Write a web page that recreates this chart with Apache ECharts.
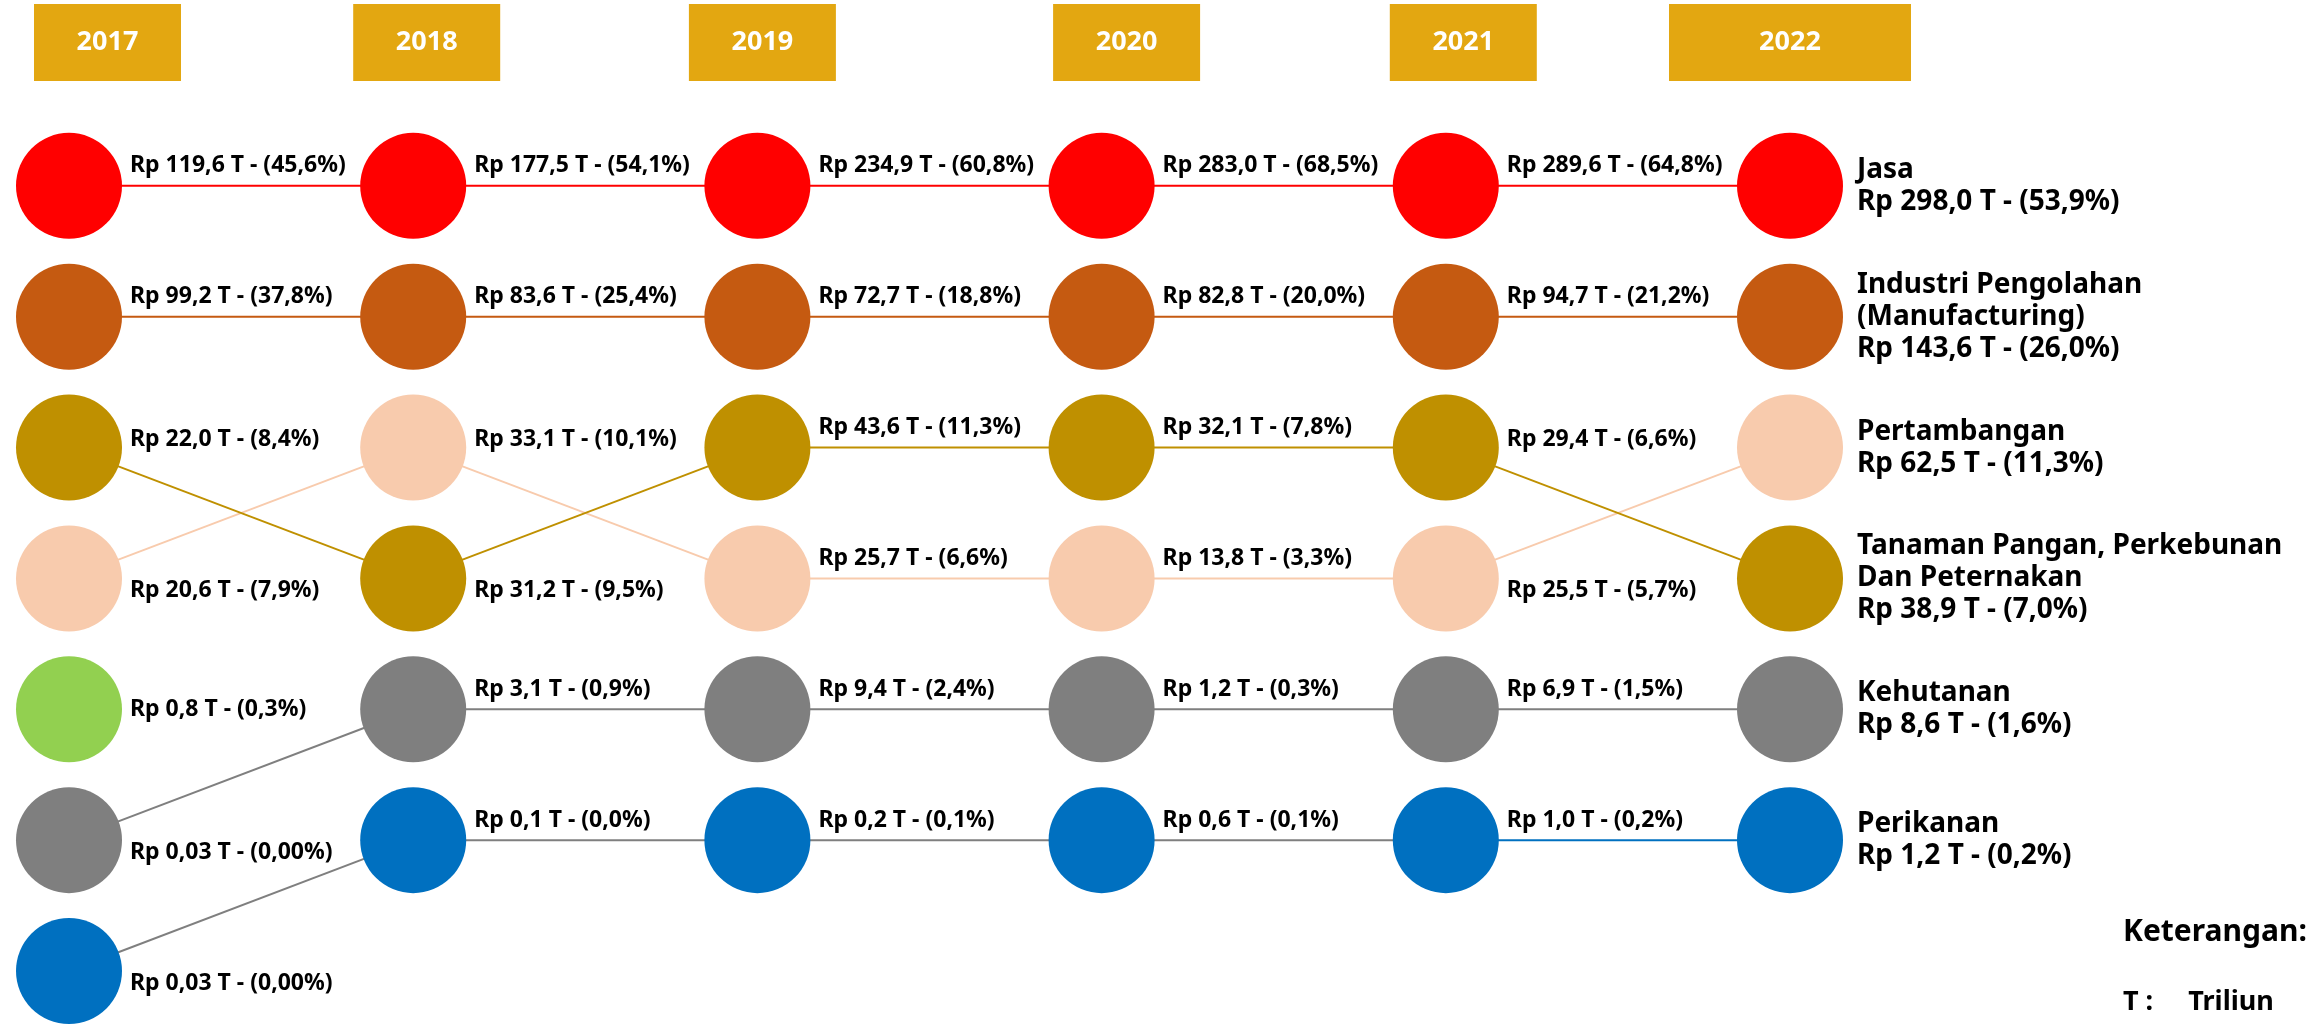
<!DOCTYPE html>
<html>
<head>
<meta charset="utf-8">
<script src="https://cdn.jsdelivr.net/npm/echarts@6/dist/echarts.min.js"></script>
<style>
html,body{margin:0;padding:0;background:#fff;}
#c{width:2307px;height:1028px;}
</style>
</head>
<body>
<div id="c"></div>
<script>
// ---------- DATA ----------
const years = ['2017', '2018', '2019', '2020', '2021', '2022'];

// Jasa
const jasaValue = [119.6, 177.5, 234.9, 283.0, 289.6, 298.0];
const jasaShare = [45.6, 54.1, 60.8, 68.5, 64.8, 53.9];
const jasaRank  = [1, 1, 1, 1, 1, 1];

// Industri Pengolahan (Manufacturing)
const industriValue = [99.2, 83.6, 72.7, 82.8, 94.7, 143.6];
const industriShare = [37.8, 25.4, 18.8, 20.0, 21.2, 26.0];
const industriRank  = [2, 2, 2, 2, 2, 2];

// Pertambangan
const tambangValue = [20.6, 33.1, 25.7, 13.8, 25.5, 62.5];
const tambangShare = [7.9, 10.1, 6.6, 3.3, 5.7, 11.3];
const tambangRank  = [4, 3, 4, 4, 4, 3];

// Tanaman Pangan, Perkebunan Dan Peternakan
const tanamanValue = [22.0, 31.2, 43.6, 32.1, 29.4, 38.9];
const tanamanShare = [8.4, 9.5, 11.3, 7.8, 6.6, 7.0];
const tanamanRank  = [3, 4, 3, 3, 3, 4];

// green category (only 2017, unnamed)
const hijauValue = [0.8, null, null, null, null, null];
const hijauShare = [0.3, null, null, null, null, null];
const hijauRank  = [5, null, null, null, null, null];

// Kehutanan
const hutanValue = [0.03, 3.1, 9.4, 1.2, 6.9, 8.6];
const hutanShare = [0.00, 0.9, 2.4, 0.3, 1.5, 1.6];
const hutanRank  = [6, 5, 5, 5, 5, 5];

// Perikanan
const ikanValue = [0.03, 0.1, 0.2, 0.6, 1.0, 1.2];
const ikanShare = [0.00, 0.0, 0.1, 0.1, 0.2, 0.2];
const ikanRank  = [7, 6, 6, 6, 6, 6];

// ---------- STYLE ----------
const FONT = 'Noto Sans';
const RED = '#FF0000', BROWN = '#C55A11', PINK = '#F8CBAD', GOLD = '#BF9000',
      GREEN = '#92D050', GREY = '#7F7F7F', BLUE = '#0070C0';

const sectors = [
  {name: 'Jasa', value: jasaValue, share: jasaShare, rank: jasaRank, color: RED, seg: [RED, RED, RED, RED, RED]},
  {name: 'Industri Pengolahan\n(Manufacturing)', value: industriValue, share: industriShare, rank: industriRank, color: BROWN, seg: [BROWN, BROWN, BROWN, BROWN, BROWN]},
  {name: 'Pertambangan', value: tambangValue, share: tambangShare, rank: tambangRank, color: PINK, seg: [PINK, PINK, PINK, PINK, PINK]},
  {name: 'Tanaman Pangan, Perkebunan\nDan Peternakan', value: tanamanValue, share: tanamanShare, rank: tanamanRank, color: GOLD, seg: [GOLD, GOLD, GOLD, GOLD, GOLD]},
  {name: '', value: hijauValue, share: hijauShare, rank: hijauRank, color: GREEN, seg: [GREEN, GREEN, GREEN, GREEN, GREEN]},
  {name: 'Kehutanan', value: hutanValue, share: hutanShare, rank: hutanRank, color: GREY, seg: [GREY, GREY, GREY, GREY, GREY]},
  {name: 'Perikanan', value: ikanValue, share: ikanShare, rank: ikanRank, color: BLUE, seg: [GREY, GREY, GREY, GREY, BLUE]}
];

// year header boxes (label styling)
const boxWidth = [147, 147, 147, 147, 147, 242];
const boxShift = [77, 27, 10, 50, 35, 0];

function fmt(x, d) { return x.toFixed(d).replace('.', ','); }
function valueText(v, p) {
  const d = v < 0.1 ? 2 : 1;
  return 'Rp ' + fmt(v, d) + ' T - (' + fmt(p, d) + '%)';
}

const series = [];
const last = years.length - 1;

sectors.forEach((s, si) => {
  // connecting line segments
  for (let i = 0; i < last; i++) {
    if (s.rank[i] == null || s.rank[i + 1] == null) continue;
    const d = years.map((y, k) => (k === i || k === i + 1) ? s.rank[k] : '-');
    series.push({
      type: 'line', data: d, symbol: 'none', silent: true, z: 1,
      lineStyle: {color: s.seg[i], width: 2}, animation: false
    });
  }
  // circles with labels
  const pts = [];
  s.rank.forEach((r, i) => {
    if (r == null) return;
    const txt = valueText(s.value[i], s.share[i]);
    let label;
    if (i === last) {
      label = {
        show: true, position: 'right', distance: 14,
        formatter: s.name + '\n' + txt,
        fontSize: 28, lineHeight: 32, fontWeight: 'bold', color: '#000', fontFamily: FONT
      };
    } else {
      const nr = s.rank[i + 1];
      let dy = 0;
      if (nr != null) dy = nr < r ? 12 : (nr > r ? -8 : -20);
      label = {
        show: true, position: 'right', distance: 8, offset: [0, dy],
        formatter: txt, fontSize: 23, fontWeight: 'bold', color: '#000', fontFamily: FONT
      };
    }
    pts.push({value: [i, r], label: label});
  });
  series.push({
    type: 'scatter', data: pts, symbol: 'circle', symbolSize: 106, z: 3,
    itemStyle: {color: s.color, opacity: 1}, animation: false, clip: false
  });
});

const rich = {};
years.forEach((y, i) => {
  rich['s' + i] = {width: boxShift[i], height: 77, fontSize: 27};
  rich['b' + i] = {
    width: boxWidth[i], height: 77, lineHeight: 77, align: 'center',
    backgroundColor: '#E3A711', color: '#fff', fontSize: 27, fontWeight: 'bold', fontFamily: FONT
  };
});

const chart = echarts.init(document.getElementById('c'), null, {renderer: 'canvas'});
chart.setOption({
  backgroundColor: '#fff',
  animation: false,
  textStyle: {fontFamily: FONT},
  grid: {left: 69, right: 517, top: 55, bottom: 57, containLabel: false, outerBoundsMode: 'none'},
  xAxis: {
    type: 'category', data: years, position: 'top', boundaryGap: false,
    axisLine: {show: false}, axisTick: {show: false}, splitLine: {show: false},
    axisLabel: {
      interval: 0, margin: -26, hideOverlap: false,
      formatter: (v, i) => (boxShift[i] > 0 ? '{s' + i + '| }' : '') + '{b' + i + '|' + v + '}',
      rich: rich
    }
  },
  yAxis: {type: 'value', inverse: true, min: 0, max: 7, show: false},
  series: series,
  graphic: [
    {type: 'text', left: 2123, top: 917, style: {text: 'Keterangan:', fontSize: 30, fontWeight: 'bold', fontFamily: FONT, fill: '#000'}},
    {type: 'text', left: 2123, top: 989, style: {text: 'T :     Triliun', fontSize: 27, fontWeight: 'bold', fontFamily: FONT, fill: '#000'}}
  ]
});
</script>
</body>
</html>
